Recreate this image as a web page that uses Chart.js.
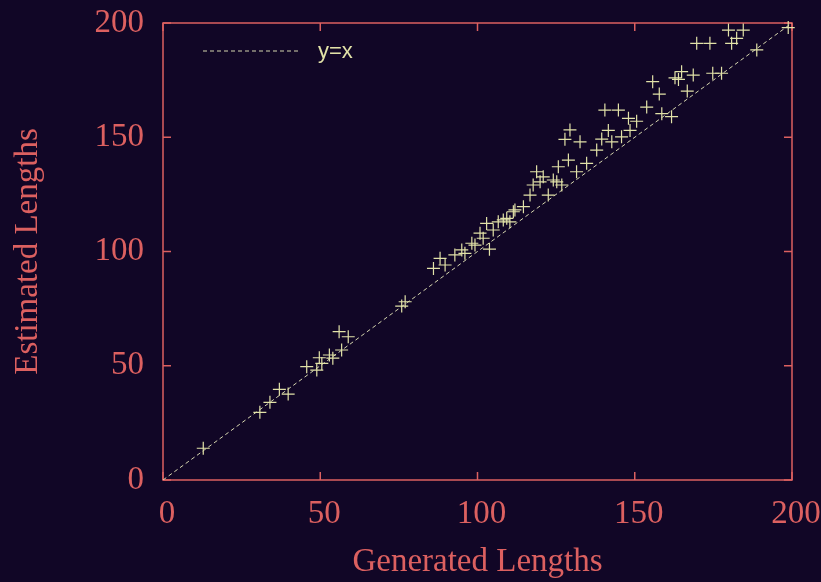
<!DOCTYPE html>
<html>
<head>
<meta charset="utf-8">
<script src="https://cdn.jsdelivr.net/npm/chart.js@4.4.1/dist/chart.umd.min.js"></script>
<style>
  html, body { margin: 0; padding: 0; background: #110626; }
</style>
</head>
<body>
<canvas id="lengthsChart" width="821" height="582"></canvas>
<script>
// values
const generatedLengths = [
  12.8, 30.8, 34.0, 37.0, 39.8, 45.7, 48.9, 49.7, 50.5, 52.9, 54.0, 56.8, 56.0, 58.9,
  75.9, 77.0,
  86.0, 88.1, 89.7, 92.8, 95.0, 96.0, 98.2, 99.2, 100.8, 101.8, 102.9, 103.8, 105.0,
  106.6, 108.2, 109.3, 110.3, 111.4, 111.9, 114.6, 116.7, 117.7, 118.8, 119.9, 120.9,
  122.5, 124.1, 125.2, 125.7, 126.8, 128.9, 131.5, 134.7, 137.9,
  127.8, 129.4, 132.6, 139.5, 141.6, 142.7, 145.8, 148.5, 148.0, 150.6, 140.5, 144.8,
  153.8, 155.7, 157.8, 158.6, 161.7, 162.8, 163.9, 164.9, 166.7, 168.6, 169.7, 173.9,
  174.8, 177.6, 179.8, 180.8, 182.4, 184.5, 188.8, 198.8
];
const estimatedLengths = [
  13.9, 29.6, 34.0, 39.7, 37.6, 49.6, 48.1, 53.5, 51.0, 54.7, 53.3, 56.9, 64.9, 62.7,
  76.1, 78.0,
  92.6, 97.0, 94.1, 98.5, 100.7, 99.2, 103.6, 102.8, 108.0, 105.8, 112.3, 101.0, 109.4,
  113.0, 113.8, 114.5, 113.0, 117.4, 118.2, 119.6, 124.7, 129.1, 134.9, 130.5, 132.7,
  124.7, 131.3, 130.5, 137.1, 129.1, 140.0, 134.9, 138.6, 144.4,
  149.1, 153.2, 148.0, 149.2, 153.0, 148.0, 150.2, 153.0, 158.3, 157.0, 161.9, 161.9,
  163.2, 174.3, 168.9, 160.3, 159.0, 176.0, 175.3, 178.7, 170.2, 177.2, 191.1, 191.1,
  178.0, 178.0, 196.9, 191.1, 193.3, 196.9, 188.2, 198.0
];
const axisTicks = [0, 50, 100, 150, 200];
const identityLine = [0, 200];
const keyLabel = "y=x";
const xTitle = "Generated Lengths";
const yTitle = "Estimated Lengths";

const red = "#dc6060";
const pale = "#e2e2a8";
const serif = { family: "'Liberation Serif', 'Times New Roman', serif", size: 33 };

// border box with gnuplot-style inward ticks on all four sides
const framePlugin = {
  id: "frame",
  beforeDatasetsDraw(chart) {
    const { ctx, chartArea: a, scales: { x, y } } = chart;
    ctx.save();
    ctx.strokeStyle = red;
    ctx.lineWidth = 1.5;
    ctx.strokeRect(a.left, a.top, a.right - a.left, a.bottom - a.top);
    ctx.beginPath();
    axisTicks.forEach(v => {
      const px = x.getPixelForValue(v);
      ctx.moveTo(px, a.bottom); ctx.lineTo(px, a.bottom - 8);
      ctx.moveTo(px, a.top); ctx.lineTo(px, a.top + 8);
      const py = y.getPixelForValue(v);
      ctx.moveTo(a.left, py); ctx.lineTo(a.left + 8, py);
      ctx.moveTo(a.right, py); ctx.lineTo(a.right - 8, py);
    });
    ctx.stroke();
    ctx.restore();
  }
};

// key in the top-left corner of the plot
const keyPlugin = {
  id: "key",
  afterDatasetsDraw(chart) {
    const ds = chart.data.datasets[1];
    const { ctx, chartArea: a } = chart;
    const ky = a.top + 28;
    ctx.save();
    ctx.strokeStyle = ds.borderColor;
    ctx.lineWidth = ds.borderWidth;
    ctx.setLineDash(ds.borderDash);
    ctx.beginPath();
    ctx.moveTo(a.left + 40, ky);
    ctx.lineTo(a.left + 135, ky);
    ctx.stroke();
    ctx.setLineDash([]);
    ctx.fillStyle = pale;
    ctx.font = "22px 'Liberation Sans', Arial, sans-serif";
    ctx.textBaseline = "middle";
    ctx.fillText(ds.label, a.left + 155, ky + 1);
    ctx.restore();
  }
};

new Chart(document.getElementById("lengthsChart"), {
  data: {
    datasets: [
      {
        type: "scatter",
        label: "lengths",
        data: generatedLengths.map((g, i) => ({ x: g, y: estimatedLengths[i] })),
        pointStyle: "cross",
        pointRadius: 6.5,
        pointHoverRadius: 6.5,
        borderColor: pale,
        borderWidth: 1.2,
        clip: false
      },
      {
        type: "line",
        label: keyLabel,
        data: identityLine.map(v => ({ x: v, y: v })),
        borderColor: "#d6d6ae",
        borderWidth: 1,
        borderDash: [4, 3],
        pointRadius: 0,
        fill: false
      }
    ]
  },
  options: {
    responsive: false,
    animation: false,
    devicePixelRatio: 1,
    layout: { padding: { top: 23, right: 29, left: 0, bottom: 0 } },
    plugins: { legend: { display: false }, tooltip: { enabled: false } },
    scales: {
      x: {
        type: "linear",
        min: 0,
        max: 200,
        afterBuildTicks: s => { s.ticks = axisTicks.map(v => ({ value: v })); },
        afterFit: s => { s.height = 102; s.paddingLeft = 0; s.paddingRight = 0; },
        grid: { display: false, drawTicks: false },
        border: { display: false },
        ticks: { color: red, font: serif, padding: 15, labelOffset: 4 },
        title: { display: true, text: xTitle, color: red, font: serif, padding: { top: -2, bottom: 0 } }
      },
      y: {
        type: "linear",
        min: 0,
        max: 200,
        afterBuildTicks: s => { s.ticks = axisTicks.map(v => ({ value: v })); },
        afterFit: s => { s.width = 163; s.paddingTop = 0; s.paddingBottom = 0; },
        grid: { display: false, drawTicks: false },
        border: { display: false },
        ticks: { color: red, font: serif, padding: 19 },
        title: { display: true, text: yTitle, color: red, font: serif, padding: { top: 9, bottom: 0 } }
      }
    }
  },
  plugins: [framePlugin, keyPlugin]
});
</script>
</body>
</html>
